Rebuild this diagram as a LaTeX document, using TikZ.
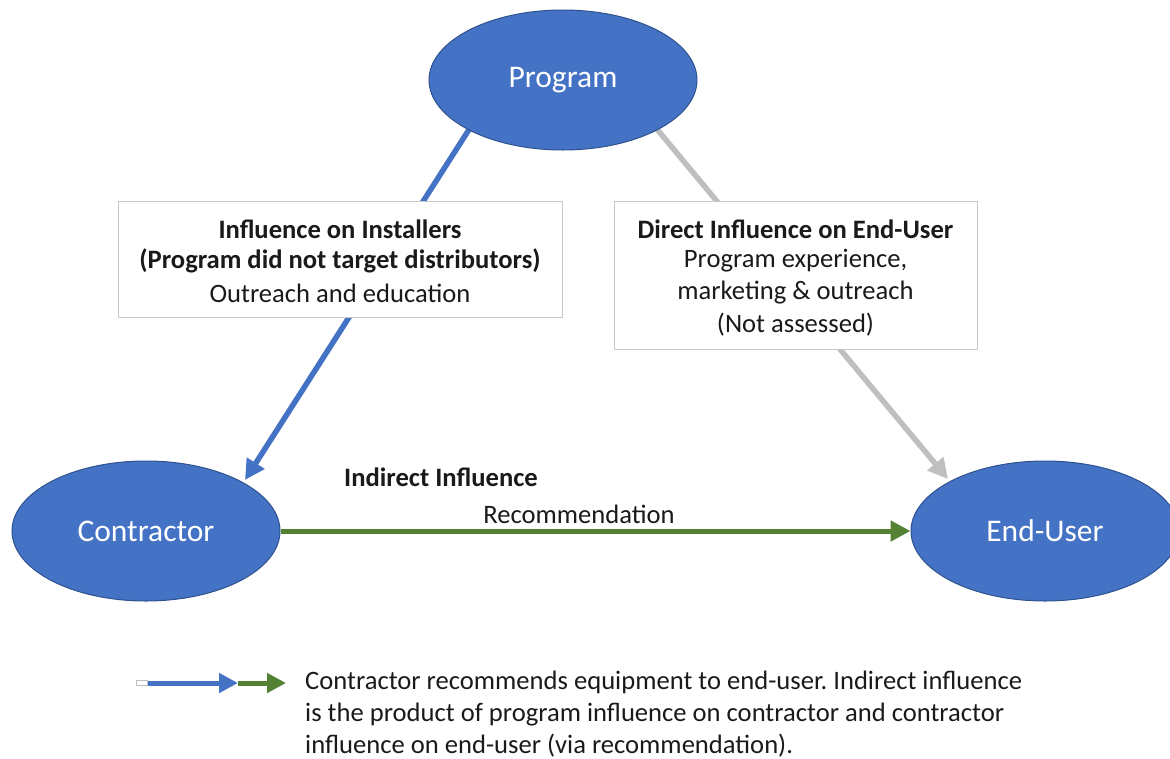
\documentclass[tikz,border=0pt]{standalone}
\usepackage{fontspec}
\setmainfont{Carlito}
\usetikzlibrary{arrows.meta,shapes.geometric}
\definecolor{nodeblue}{HTML}{4472C4}
\definecolor{nodeedge}{HTML}{2F528F}
\definecolor{arrgray}{HTML}{BFBFBF}
\definecolor{arrgreen}{HTML}{548235}
\definecolor{boxedge}{HTML}{C8C8C8}
\definecolor{txt}{HTML}{1A1A1A}
\newcommand{\bodyfont}{\fontsize{26.6}{32}\selectfont}
\frenchspacing
\tikzset{
  actor/.style={ellipse, fill=nodeblue, draw=nodeedge, line width=1pt, minimum width=268pt, minimum height=140pt, inner sep=0pt, text=white, font=\fontsize{31.5}{36}\selectfont},
  labelbox/.style={draw=boxedge, line width=0.8pt, fill=white, align=center, text=txt, font=\bodyfont, inner sep=0pt},
  plain/.style={text=txt, font=\bodyfont, inner sep=0pt},
  boldtxt/.style={plain, font=\bfseries\bodyfont},
  bluearr/.style={draw=nodeblue, line width=5.5pt, -{Triangle[length=20pt,width=20pt]}},
  grayarr/.style={draw=arrgray, line width=5.5pt, -{Triangle[length=20pt,width=20pt]}},
  greenarr/.style={draw=arrgreen, line width=5pt, -{Triangle[length=20pt,width=20pt]}},
}
\begin{document}
\begin{tikzpicture}[x=1pt,y=-1pt]
\useasboundingbox (0,0) rectangle (1170,758);
\clip (0,0) rectangle (1170,758);
% arrows first (behind)
\coordinate (pL) at (470,128);
\coordinate (cT) at (245,480);
\coordinate (pR) at (656,128);
\coordinate (eT) at (948,479);
\draw[bluearr] (pL) -- (cT);
\draw[grayarr] (pR) -- (eT);
% nodes
\node[actor] (program) at (563,80) {Program};
\node[actor] (contractor) at (146,531) {Contractor};
\node[actor] (enduser) at (1045,531) {End-User};
\draw[greenarr] (contractor.east) -- (enduser.west);
% label boxes
\node[labelbox, minimum width=444pt, minimum height=116pt] (box1) at (340,259) {};
\node[boldtxt] (b1l1) at (340,229) {Influence on Installers};
\node[boldtxt] (b1l2) at (340,261) {(Program did not target distributors)};
\node[plain] (b1l3) at (340,293) {Outreach and education};
\node[labelbox, minimum width=363pt, minimum height=148pt] (box2) at (795.5,275) {};
\node[boldtxt] (b2l1) at (795.5,229) {Direct Influence on End-User};
\node[plain] (b2l2) at (795.5,261) {Program experience,};
\node[plain] (b2l3) at (795.5,293) {marketing \& outreach};
\node[plain] (b2l4) at (795.5,325) {(Not assessed)};
% indirect influence
\node[boldtxt] (ind) at (441,477) {Indirect Influence};
\node[plain] (rec) at (579,514) {Recommendation};
% legend
\coordinate (lg0) at (137,683);
\coordinate (lg1) at (148,683);
\coordinate (lg2) at (238,683);
\coordinate (lg3) at (286,683);
\draw[draw=nodeblue, line width=5pt, -{Triangle[length=19pt,width=19pt]}] (lg1) -- (lg2);
\draw[draw=arrgreen, line width=5pt, -{Triangle[length=19pt,width=19pt]}] (lg2) -- (lg3);
\node[draw=arrgray, fill=white, line width=0.6pt, minimum width=11pt, minimum height=5pt, inner sep=0pt, anchor=east] (tail) at (lg1) {};
\node[plain, anchor=west, align=left] (legtxt) at (305,714) {Contractor recommends equipment to end-user. Indirect influence\\is the product of program influence on contractor and contractor\\influence on end-user (via recommendation).};
\end{tikzpicture}
\end{document}
